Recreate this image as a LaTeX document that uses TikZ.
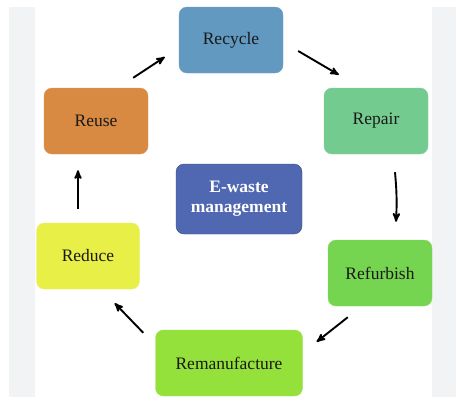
\documentclass[tikz,border=0pt]{standalone}
\usepackage{fontspec}
\setmainfont{Liberation Serif}
\usepackage{tikz}
\usetikzlibrary{arrows}

\definecolor{recyclecol}{HTML}{6199C0}
\definecolor{reusecol}{HTML}{D88A42}
\definecolor{repaircol}{HTML}{74CB90}
\definecolor{ewastecol}{HTML}{5068B2}
\definecolor{reducecol}{HTML}{E8EF47}
\definecolor{refurbcol}{HTML}{76D550}
\definecolor{remanucol}{HTML}{95E13B}
\definecolor{stripcol}{HTML}{F2F3F5}

\begin{document}
\begin{tikzpicture}[x=1pt,y=-1pt,
	box/.style={rounded corners=8pt, minimum width=104pt, minimum height=66pt,
		font=\fontsize{17.5}{20}\selectfont, text=black!90, draw=#1!90!white, fill=#1},
	flow/.style={line width=1.9pt,->,>=stealth'}]
	%% background
	\useasboundingbox (0,0) rectangle (457,400);
	\fill[white] (0,0) rectangle (457,400);
	\fill[stripcol] (9,7) rectangle (35,397);
	\fill[stripcol] (432,7) rectangle (456,397);
	%% boxes
	\node[box=recyclecol] (recycle) at (231,40) {Recycle};
	\node[box=reusecol] (reuse) at (96,121) {Reuse};
	\node[box=repaircol] (repair) at (376,121) {Repair};
	\node[box=reducecol, minimum width=103pt] (reduce) at (88,256) {Reduce};
	\node[box=refurbcol] (refurbish) at (380,273) {Refurbish};
	\node[box=remanucol, minimum width=147pt] (remanufacture) at (229,363) {Remanufacture};
	\node[box=ewastecol, draw=ewastecol!75!black, minimum width=126pt, minimum height=70pt,
		text=white, font=\fontsize{17.5}{20}\selectfont\bfseries, align=center]
		(ewaste) at (239,199) {E-waste\\management};
	%% cycle
	\draw[flow] ([xshift=-15pt,yshift=10pt]reuse.north east) -- ([xshift=-14pt,yshift=-17pt]recycle.west);
	\draw[flow] ([xshift=15pt,yshift=-11pt]recycle.east) -- ([xshift=15pt,yshift=13pt]repair.north west);
	\draw[flow] ([xshift=19pt,yshift=-18pt]repair.south) to[bend left=4] ([xshift=16pt,yshift=18pt]refurbish.north);
	\draw[flow] ([xshift=20pt,yshift=-11pt]refurbish.south west) -- ([xshift=14pt,yshift=-12pt]remanufacture.north east);
	\draw[flow] ([xshift=-12pt,yshift=-3pt]remanufacture.north west) -- ([xshift=-25pt,yshift=-14pt]reduce.south east);
	\draw[flow] ([xshift=-10pt,yshift=14pt]reduce.north) -- ([xshift=-18pt,yshift=-16pt]reuse.south);
\end{tikzpicture}
\end{document}
